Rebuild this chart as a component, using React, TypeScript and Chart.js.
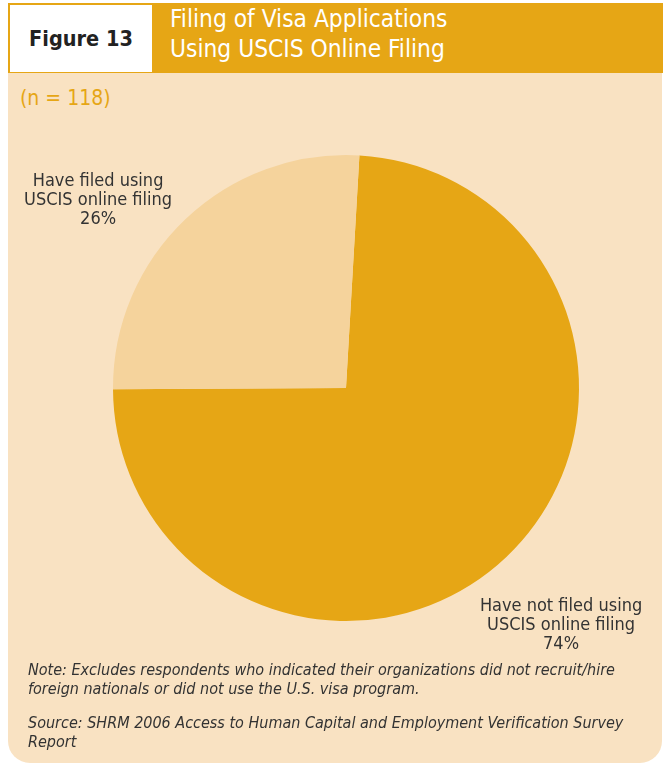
import React, { useEffect, useRef } from "react";
import { Chart, registerables } from "chart.js";

Chart.register(...registerables);

const categories = [
  ["Have not filed using", "USCIS online filing"],
  ["Have filed using", "USCIS online filing"],
];
const values = [74, 26];
const sliceColors = ["#E6A615", "#F5D39C"];
const titleLines = ["Filing of Visa Applications", "Using USCIS Online Filing"];
const figureLabel = "Figure 13";
const sampleNote = "(n = 118)";
const noteLines = [
  "Note: Excludes respondents who indicated their organizations did not recruit/hire",
  "foreign nationals or did not use the U.S. visa program.",
];
const sourceLines = [
  "Source: SHRM 2006 Access to Human Capital and Employment Verification Survey",
  "Report",
];

const FONT = '"Liberation Sans Narrow", "DejaVu Sans Condensed", "Roboto Condensed", sans-serif';
const BG = "#F9E2C2";
const ORANGE = "#E6A615";
const TEXT = "#333333";

const labelPlugin = {
  id: "sliceLabels",
  afterDraw(chart: any) {
    const ctx = chart.ctx;
    const meta = chart.getDatasetMeta(0);
    const offsets = [
      [0.923, 1.02],
      [-1.064, -0.805],
    ];
    ctx.save();
    ctx.fillStyle = TEXT;
    ctx.font = `18px ${FONT}`;
    ctx.textAlign = "center";
    ctx.textBaseline = "middle";
    meta.data.forEach((arc: any, i: number) => {
      const r = arc.outerRadius;
      const cx = arc.x + offsets[i][0] * r;
      const cy = arc.y + offsets[i][1] * r;
      const lines = [...categories[i], `${values[i]}%`];
      const lh = 19;
      lines.forEach((t, j) => {
        ctx.fillText(t, cx, cy + (j - 1) * lh);
      });
    });
    ctx.restore();
  },
};

export default function App() {
  const ref = useRef<HTMLCanvasElement>(null);
  useEffect(() => {
    const chart = new Chart(ref.current as HTMLCanvasElement, {
      type: "pie",
      data: {
        labels: categories.map((c) => c.join(" ")),
        datasets: [
          {
            data: values,
            backgroundColor: sliceColors,
            borderWidth: 0,
          },
        ],
      },
      options: {
        animation: false,
        responsive: false,
        rotation: 3.3,
        layout: { padding: { left: 113, top: 155, right: 84, bottom: 146 } },
        plugins: { legend: { display: false }, tooltip: { enabled: false } },
      },
      plugins: [labelPlugin],
    });
    return () => chart.destroy();
  }, []);

  return (
    <div style={{ position: "absolute", left: 0, top: 0, width: 663, height: 767, background: "#fff", overflow: "hidden", fontFamily: FONT }}>
      <div style={{ position: "absolute", left: 8, top: 3, width: 654, height: 760, background: BG, borderRadius: "0 0 22px 22px" }} />
      <div style={{ position: "absolute", left: 8, top: 3, width: 655, height: 70, background: ORANGE }} />
      <div style={{ position: "absolute", left: 10, top: 5, width: 142, height: 67, background: "#fff", display: "flex", alignItems: "center", justifyContent: "center", color: "#222", fontWeight: "bold", fontSize: 21.5 }}>
        {figureLabel}
      </div>
      <div style={{ position: "absolute", left: 170, top: 4, color: "#fff", fontSize: 24.3, lineHeight: "30px" }}>
        {titleLines.map((t) => (
          <div key={t}>{t}</div>
        ))}
      </div>
      <div style={{ position: "absolute", left: 20, top: 86, color: ORANGE, fontSize: 21, lineHeight: "24px" }}>{sampleNote}</div>
      <canvas ref={ref} width={663} height={767} style={{ position: "absolute", left: 0, top: 0 }} />
      <div style={{ position: "absolute", left: 28, top: 660, color: TEXT, fontSize: 16, fontStyle: "italic", lineHeight: "19px" }}>
        {noteLines.map((t) => (
          <div key={t}>{t}</div>
        ))}
      </div>
      <div style={{ position: "absolute", left: 28, top: 713, color: TEXT, fontSize: 16, fontStyle: "italic", lineHeight: "19px" }}>
        {sourceLines.map((t) => (
          <div key={t}>{t}</div>
        ))}
      </div>
    </div>
  );
}
